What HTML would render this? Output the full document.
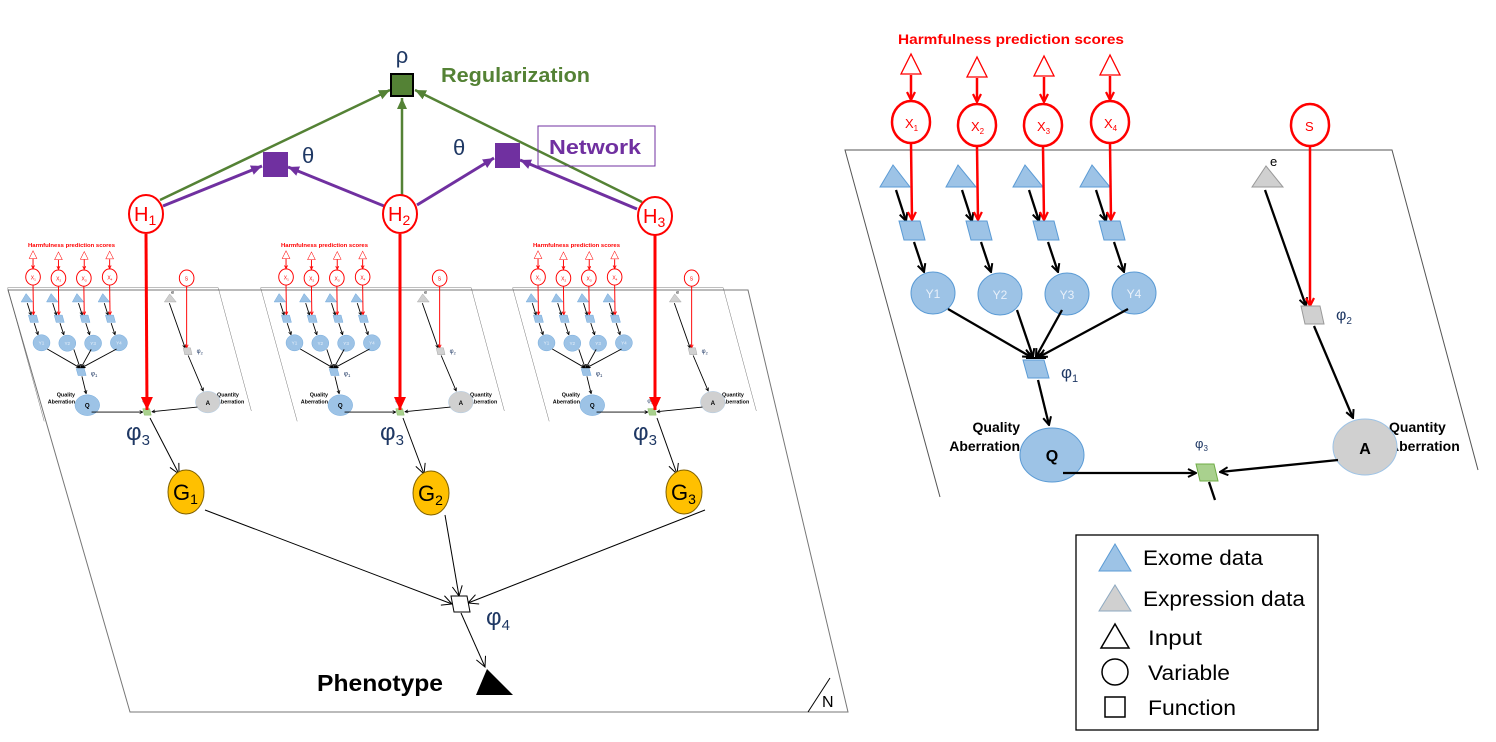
<!DOCTYPE html>
<html><head><meta charset="utf-8"><style>
html,body{margin:0;padding:0;background:#fff;}
svg{display:block;}
text{font-family:"Liberation Sans",sans-serif;}
</style></head><body>
<svg width="1496" height="742" viewBox="0 0 1496 742" xmlns="http://www.w3.org/2000/svg">
<defs>
<marker id="ab" markerWidth="10" markerHeight="10" refX="9" refY="5" orient="auto" markerUnits="userSpaceOnUse"><path d="M1,1 L9,5 L1,9" fill="none" stroke="#000" stroke-width="2"/></marker>
<marker id="ar" markerWidth="10" markerHeight="10" refX="9" refY="5" orient="auto" markerUnits="userSpaceOnUse"><path d="M1,1 L9,5 L1,9" fill="none" stroke="#f00" stroke-width="2.2"/></marker>
<marker id="arb" markerWidth="14" markerHeight="14" refX="13" refY="7" orient="auto" markerUnits="userSpaceOnUse"><path d="M0,1 L13,7 L0,13 z" fill="#f00"/></marker>
<marker id="ag" markerWidth="12" markerHeight="12" refX="11" refY="6" orient="auto" markerUnits="userSpaceOnUse"><path d="M0,1 L11,6 L0,11 z" fill="#548235"/></marker>
<marker id="ap" markerWidth="12" markerHeight="12" refX="11" refY="6" orient="auto" markerUnits="userSpaceOnUse"><path d="M0,1 L11,6 L0,11 z" fill="#7030A0"/></marker>
<marker id="at" markerWidth="12" markerHeight="12" refX="11" refY="6" orient="auto" markerUnits="userSpaceOnUse"><path d="M1,1 L11,6 L1,11" fill="none" stroke="#000" stroke-width="1"/></marker>

<g id="sub">
<polyline points="940,497 845,150 1392,150 1478,470" fill="none" stroke="#555" stroke-width="1"/>
<text x="1011" y="44" text-anchor="middle" fill="#f00" font-weight="bold" font-size="14" textLength="226" lengthAdjust="spacingAndGlyphs">Harmfulness prediction scores</text>
<g fill="#fff" stroke="#f00" stroke-width="1.3">
<polygon points="911,54 901,74 921,74"/><polygon points="977,57 967,77 987,77"/><polygon points="1044,56 1034,76 1054,76"/><polygon points="1110,55 1100,75 1120,75"/>
</g>
<g stroke="#f00" stroke-width="2.5" marker-end="url(#ar)">
<line x1="911" y1="75" x2="911" y2="100"/><line x1="977" y1="78" x2="977" y2="102"/><line x1="1044" y1="77" x2="1044" y2="102"/><line x1="1110" y1="76" x2="1110" y2="100"/>
</g>
<g fill="#fff" stroke="#f00" stroke-width="2.5">
<ellipse cx="911" cy="122" rx="19" ry="21"/><ellipse cx="977" cy="125" rx="19" ry="21"/><ellipse cx="1043" cy="125" rx="19" ry="21"/><ellipse cx="1110" cy="122" rx="19" ry="21"/><ellipse cx="1310" cy="125" rx="19" ry="21"/>
</g>
<g fill="#f00" font-size="13">
<text x="905" y="128">X<tspan font-size="8" dy="3">1</tspan></text>
<text x="971" y="131">X<tspan font-size="8" dy="3">2</tspan></text>
<text x="1037" y="131">X<tspan font-size="8" dy="3">3</tspan></text>
<text x="1104" y="128">X<tspan font-size="8" dy="3">4</tspan></text>
<text x="1305" y="131">S</text>
</g>
<g fill="#9DC3E6" stroke="#5B9BD5" stroke-width="1">
<polygon points="880,187 893,165 910,187"/><polygon points="946,187 958,165 976,187"/><polygon points="1013,187 1025,165 1043,187"/><polygon points="1080,187 1092,165 1110,187"/>
</g>
<polygon points="1252,187 1266,166 1283,187" fill="#D0D0D0" stroke="#999"/>
<text x="1270" y="166" font-size="13" fill="#000">e</text>
<g stroke="#000" stroke-width="2.3" marker-end="url(#ab)">
<line x1="896" y1="190" x2="906" y2="221"/><line x1="962" y1="190" x2="972" y2="221"/><line x1="1029" y1="190" x2="1039" y2="221"/><line x1="1096" y1="190" x2="1106" y2="221"/>
<line x1="1265" y1="190" x2="1306" y2="306"/>
</g>
<g stroke="#f00" stroke-width="2.5" marker-end="url(#ar)">
<line x1="911" y1="144" x2="912" y2="220"/><line x1="977" y1="147" x2="978" y2="220"/><line x1="1043" y1="147" x2="1044" y2="220"/><line x1="1110" y1="144" x2="1111" y2="220"/>
<line x1="1310" y1="147" x2="1310" y2="306"/>
</g>
<g fill="#9DC3E6" stroke="#5B9BD5" stroke-width="1">
<polygon points="899,221 920,221 925,240 904,240"/><polygon points="966,221 987,221 992,240 971,240"/><polygon points="1033,221 1054,221 1059,240 1038,240"/><polygon points="1099,221 1120,221 1125,240 1104,240"/>
</g>
<g stroke="#000" stroke-width="2.3" marker-end="url(#ab)">
<line x1="914" y1="242" x2="924" y2="272"/><line x1="981" y1="242" x2="991" y2="272"/><line x1="1048" y1="242" x2="1058" y2="272"/><line x1="1114" y1="242" x2="1124" y2="272"/>
</g>
<g fill="#9DC3E6" stroke="#5B9BD5" stroke-width="1">
<ellipse cx="933" cy="293" rx="22" ry="21"/><ellipse cx="1000" cy="294" rx="22" ry="21"/><ellipse cx="1067" cy="294" rx="22" ry="21"/><ellipse cx="1134" cy="293" rx="22" ry="21"/>
</g>
<g fill="#E8F0FA" font-size="12" text-anchor="middle">
<text x="933" y="298">Y1</text><text x="1000" y="299">Y2</text><text x="1067" y="299">Y3</text><text x="1134" y="298">Y4</text>
</g>
<g stroke="#000" stroke-width="2.3" marker-end="url(#ab)">
<line x1="948" y1="309" x2="1031" y2="357"/><line x1="1017" y1="310" x2="1033" y2="357"/><line x1="1062" y1="310" x2="1036" y2="357"/><line x1="1128" y1="309" x2="1039" y2="357"/>
</g>
<line x1="1026" y1="358" x2="1046" y2="358" stroke="#000" stroke-width="2"/>
<polygon points="1023,360 1044,360 1049,378 1028,378" fill="#9DC3E6" stroke="#5B9BD5"/>
<text x="1061" y="378" fill="#1F3864" font-size="17">φ<tspan font-size="11" dy="4">1</tspan></text>
<line x1="1038" y1="380" x2="1049" y2="425" stroke="#000" stroke-width="2.3" marker-end="url(#ab)"/>
<ellipse cx="1052" cy="455" rx="32" ry="27" fill="#9DC3E6" stroke="#5B9BD5"/>
<text x="1052" y="461" text-anchor="middle" font-weight="bold" font-size="16" fill="#000">Q</text>
<g font-weight="bold" font-size="14" fill="#000">
<text x="1020" y="432" text-anchor="end">Quality</text><text x="1020" y="451" text-anchor="end">Aberration</text>
<text x="1389" y="432">Quantity</text><text x="1389" y="451">Aberration</text>
</g>
<polygon points="1301,306 1320,306 1324,324 1305,324" fill="#D0D0D0" stroke="#999"/>
<text x="1336" y="320" fill="#1F3864" font-size="16">φ<tspan font-size="10" dy="4">2</tspan></text>
<line x1="1314" y1="326" x2="1353" y2="418" stroke="#000" stroke-width="2.3" marker-end="url(#ab)"/>
<ellipse cx="1365" cy="447" rx="32" ry="28" fill="#D0D0D0" stroke="#9DC3E6"/>
<text x="1365" y="454" text-anchor="middle" font-weight="bold" font-size="16" fill="#000">A</text>
<line x1="1063" y1="473" x2="1196" y2="473" stroke="#000" stroke-width="2.3" marker-end="url(#ab)"/>
<line x1="1338" y1="460" x2="1220" y2="472" stroke="#000" stroke-width="2.3" marker-end="url(#ab)"/>
<polygon points="1196,464 1214,464 1218,481 1200,481" fill="#A9D18E" stroke="#70AD47"/>
<text x="1195" y="448" fill="#1F3864" font-size="13">φ<tspan font-size="8" dy="3">3</tspan></text>
</g>
</defs>

<use href="#sub"/>
<line x1="1209" y1="482" x2="1215" y2="500" stroke="#000" stroke-width="2.3"/>

<polygon points="8,290 748,290 848,712 130,712" fill="none" stroke="#777" stroke-width="1"/>
<line x1="808" y1="712" x2="830" y2="678" stroke="#000" stroke-width="1"/>
<text x="822" y="707" font-size="16" fill="#000">N</text>

<use href="#sub" transform="translate(-317.7,230) scale(0.385)"/>
<use href="#sub" transform="translate(-64.7,230) scale(0.385)"/>
<use href="#sub" transform="translate(187.3,230) scale(0.385)"/>

<g stroke="#548235" stroke-width="2.5" marker-end="url(#ag)">
<line x1="160" y1="200" x2="390" y2="90"/>
<line x1="402" y1="196" x2="402" y2="98"/>
<line x1="642" y1="202" x2="415" y2="90"/>
</g>
<g stroke="#7030A0" stroke-width="3" marker-end="url(#ap)">
<line x1="163" y1="206" x2="262" y2="166"/>
<line x1="384" y1="206" x2="288" y2="167"/>
<line x1="417" y1="205" x2="494" y2="158"/>
<line x1="637" y1="209" x2="520" y2="160"/>
</g>
<rect x="391" y="74" width="22" height="22" fill="#548235" stroke="#000" stroke-width="2"/>
<text x="402" y="63" text-anchor="middle" fill="#1F3864" font-size="22">ρ</text>
<text x="441" y="82" fill="#548235" font-weight="bold" font-size="20" textLength="149" lengthAdjust="spacingAndGlyphs">Regularization</text>
<rect x="263" y="152" width="25" height="25" fill="#7030A0"/>
<rect x="495" y="143" width="25" height="25" fill="#7030A0"/>
<text x="302" y="163" fill="#1F3864" font-size="22">θ</text>
<text x="453" y="155" fill="#1F3864" font-size="22">θ</text>
<rect x="538" y="126" width="117" height="40" fill="none" stroke="#7030A0" stroke-width="1"/>
<text x="549" y="154" fill="#7030A0" font-weight="bold" font-size="20" textLength="92" lengthAdjust="spacingAndGlyphs">Network</text>

<g stroke="#f00" stroke-width="3" marker-end="url(#arb)">
<line x1="146" y1="234" x2="147" y2="410"/>
<line x1="400" y1="234" x2="400" y2="410"/>
<line x1="655" y1="234" x2="655" y2="410"/>
</g>
<g fill="#fff" stroke="#f00" stroke-width="2">
<ellipse cx="146" cy="214" rx="17" ry="19"/><ellipse cx="400" cy="214" rx="17" ry="19"/><ellipse cx="655" cy="216" rx="17" ry="19"/>
</g>
<g fill="#f00" font-size="20">
<text x="134" y="221">H<tspan font-size="14" dy="4">1</tspan></text>
<text x="388" y="221">H<tspan font-size="14" dy="4">2</tspan></text>
<text x="643" y="223">H<tspan font-size="14" dy="4">3</tspan></text>
</g>
<g fill="#1F3864" font-size="24">
<text x="126" y="440">φ<tspan font-size="15" dy="5">3</tspan></text>
<text x="380" y="440">φ<tspan font-size="15" dy="5">3</tspan></text>
<text x="633" y="440">φ<tspan font-size="15" dy="5">3</tspan></text>
</g>
<g stroke="#000" stroke-width="1" marker-end="url(#at)">
<line x1="150" y1="418" x2="179" y2="474"/>
<line x1="403" y1="418" x2="424" y2="474"/>
<line x1="657" y1="418" x2="677" y2="474"/>
<line x1="205" y1="510" x2="452" y2="604"/>
<line x1="445" y1="515" x2="459" y2="596"/>
<line x1="705" y1="510" x2="468" y2="603"/>
<line x1="461" y1="613" x2="485" y2="667"/>
</g>
<g fill="#FFC000" stroke="#7F6000" stroke-width="1">
<ellipse cx="186" cy="492" rx="18" ry="22"/><ellipse cx="431" cy="493" rx="18" ry="22"/><ellipse cx="684" cy="492" rx="18" ry="22"/>
</g>
<g fill="#000" font-size="22">
<text x="173" y="500">G<tspan font-size="14" dy="4">1</tspan></text>
<text x="418" y="501">G<tspan font-size="14" dy="4">2</tspan></text>
<text x="671" y="500">G<tspan font-size="14" dy="4">3</tspan></text>
</g>
<polygon points="451,596 467,596 470,612 454,612" fill="#fff" stroke="#000" stroke-width="1"/>
<text x="486" y="625" fill="#1F3864" font-size="24">φ<tspan font-size="15" dy="5">4</tspan></text>
<polygon points="476,695 513,695 487,669" fill="#000"/>
<text x="317" y="691" font-weight="bold" font-size="23" fill="#000" textLength="126" lengthAdjust="spacingAndGlyphs">Phenotype</text>

<rect x="1076" y="535" width="242" height="195" fill="#fff" stroke="#000" stroke-width="1.3"/>
<polygon points="1099,571 1115,544 1131,571" fill="#9DC3E6" stroke="#5B9BD5"/>
<text x="1143" y="565" font-size="21" fill="#000" textLength="120" lengthAdjust="spacingAndGlyphs">Exome data</text>
<polygon points="1099,611 1115,585 1131,611" fill="#D0D0D0" stroke="#8EA9C1"/>
<text x="1143" y="606" font-size="21" fill="#000" textLength="162" lengthAdjust="spacingAndGlyphs">Expression data</text>
<polygon points="1101,648 1115,624 1129,648" fill="#fff" stroke="#000" stroke-width="1.5"/>
<text x="1148" y="645" font-size="21" fill="#000" textLength="54" lengthAdjust="spacingAndGlyphs">Input</text>
<circle cx="1115" cy="672" r="13" fill="#fff" stroke="#000" stroke-width="1.5"/>
<text x="1148" y="680" font-size="21" fill="#000" textLength="82" lengthAdjust="spacingAndGlyphs">Variable</text>
<rect x="1105" y="697" width="20" height="20" fill="#fff" stroke="#000" stroke-width="1.5"/>
<text x="1148" y="715" font-size="21" fill="#000" textLength="88" lengthAdjust="spacingAndGlyphs">Function</text>
</svg>
</body></html>
